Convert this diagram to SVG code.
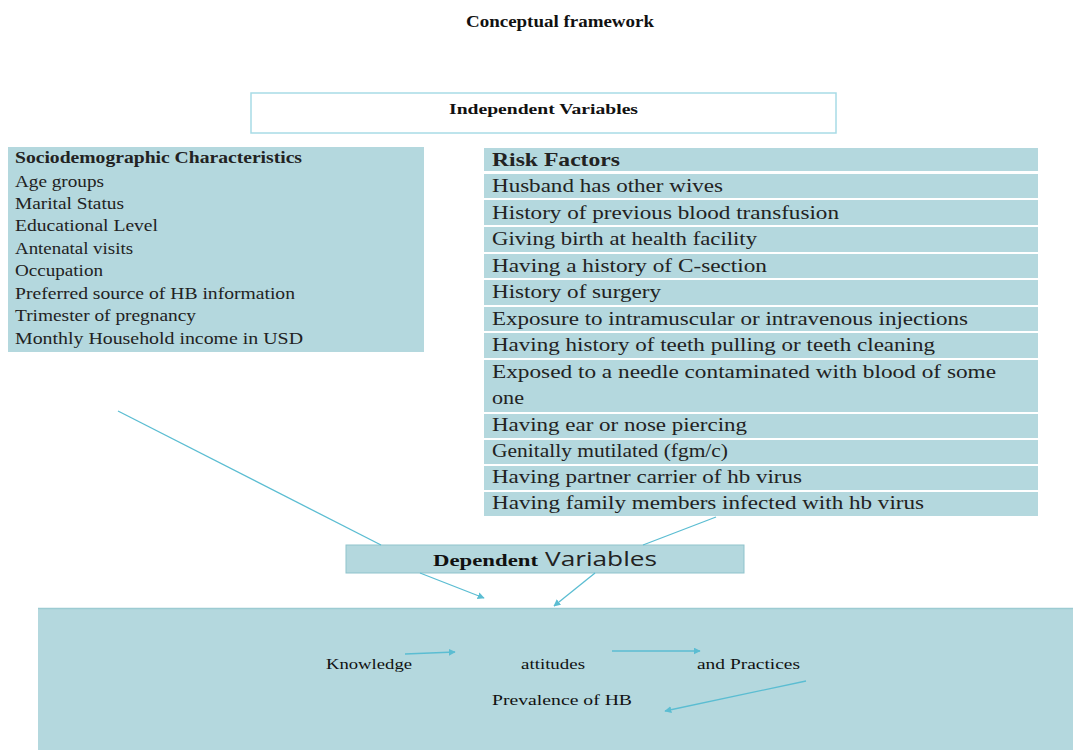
<svg xmlns="http://www.w3.org/2000/svg" width="1073" height="750" viewBox="0 0 1073 750">
<style>
.t{font-family:"Liberation Serif",serif;fill:#111}
.box{fill:#b4d8de}
.rl{font-family:"Liberation Serif",serif;font-size:19px;fill:#222}
.ll{font-family:"Liberation Serif",serif;font-size:16px;fill:#222}
.c{stroke:#5bbdd2;stroke-width:1.3;fill:none}
</style>
<defs>
<marker id="ah" viewBox="0 0 10 10" refX="9" refY="5" markerWidth="7" markerHeight="7" orient="auto" markerUnits="userSpaceOnUse">
<path d="M0,0 L10,5 L0,10 z" fill="#5bbdd2"/>
</marker>
</defs>
<rect width="1073" height="750" fill="#fff"/>
<text class="t" x="466" y="27" font-size="16" font-weight="bold" textLength="188" lengthAdjust="spacingAndGlyphs">Conceptual framework</text>

<g id="independent">
<rect x="251" y="93" width="585" height="40" fill="#fff" stroke="#a8dbe6" stroke-width="1.5"/>
<text class="t" x="449" y="114" font-size="14" font-weight="bold" textLength="189" lengthAdjust="spacingAndGlyphs">Independent  Variables</text>
</g>

<g id="sociodemographic">
<rect class="box" x="8" y="147" width="416" height="205"/>
<text class="ll" x="15" y="163" font-weight="bold" textLength="287" lengthAdjust="spacingAndGlyphs">Sociodemographic  Characteristics</text>
<text class="ll" x="15" y="187" textLength="89" lengthAdjust="spacingAndGlyphs">Age groups</text>
<text class="ll" x="15" y="209" textLength="109" lengthAdjust="spacingAndGlyphs">Marital Status</text>
<text class="ll" x="15" y="231" textLength="143" lengthAdjust="spacingAndGlyphs">Educational Level</text>
<text class="ll" x="15" y="254" textLength="118" lengthAdjust="spacingAndGlyphs">Antenatal visits</text>
<text class="ll" x="15" y="276" textLength="88" lengthAdjust="spacingAndGlyphs">Occupation</text>
<text class="ll" x="15" y="299" textLength="280" lengthAdjust="spacingAndGlyphs">Preferred source of HB information</text>
<text class="ll" x="15" y="321" textLength="181" lengthAdjust="spacingAndGlyphs">Trimester  of pregnancy</text>
<text class="ll" x="15" y="344" textLength="288" lengthAdjust="spacingAndGlyphs">Monthly Household income in USD</text>
</g>

<g id="risk-factors">
<rect class="box" x="484" y="148" width="554" height="23"/>
<rect class="box" x="484" y="174" width="554" height="24"/>
<rect class="box" x="484" y="200" width="554" height="25"/>
<rect class="box" x="484" y="227" width="554" height="25"/>
<rect class="box" x="484" y="254" width="554" height="24"/>
<rect class="box" x="484" y="280" width="554" height="25"/>
<rect class="box" x="484" y="307" width="554" height="24"/>
<rect class="box" x="484" y="333" width="554" height="25"/>
<rect class="box" x="484" y="360" width="554" height="52"/>
<rect class="box" x="484" y="414" width="554" height="24"/>
<rect class="box" x="484" y="440" width="554" height="24"/>
<rect class="box" x="484" y="466" width="554" height="24"/>
<rect class="box" x="484" y="492" width="554" height="24"/>
<text class="rl" x="492" y="166" font-weight="bold" textLength="128" lengthAdjust="spacingAndGlyphs">Risk Factors</text>
<text class="rl" x="492" y="192" textLength="231" lengthAdjust="spacingAndGlyphs">Husband has other wives</text>
<text class="rl" x="492" y="219" textLength="347" lengthAdjust="spacingAndGlyphs">History of previous blood transfusion</text>
<text class="rl" x="492" y="245" textLength="265" lengthAdjust="spacingAndGlyphs">Giving birth at health facility</text>
<text class="rl" x="492" y="272" textLength="275" lengthAdjust="spacingAndGlyphs">Having a history of C-section</text>
<text class="rl" x="492" y="298" textLength="169" lengthAdjust="spacingAndGlyphs">History of surgery</text>
<text class="rl" x="492" y="325" textLength="476" lengthAdjust="spacingAndGlyphs">Exposure to intramuscular or intravenous injections</text>
<text class="rl" x="492" y="351" textLength="443" lengthAdjust="spacingAndGlyphs">Having history of teeth pulling or teeth cleaning</text>
<text class="rl" x="492" y="378" textLength="504" lengthAdjust="spacingAndGlyphs">Exposed to a needle contaminated with blood of some</text>
<text class="rl" x="492" y="404" textLength="32" lengthAdjust="spacingAndGlyphs">one</text>
<text class="rl" x="492" y="431" textLength="255" lengthAdjust="spacingAndGlyphs">Having ear or nose piercing</text>
<text class="rl" x="492" y="457" textLength="236" lengthAdjust="spacingAndGlyphs">Genitally mutilated (fgm/c)</text>
<text class="rl" x="492" y="483" textLength="310" lengthAdjust="spacingAndGlyphs">Having partner carrier of hb virus</text>
<text class="rl" x="492" y="509" textLength="432" lengthAdjust="spacingAndGlyphs">Having family members infected with hb virus</text>
</g>

<g id="dependent">
<rect class="box" x="346" y="545" width="398" height="28" stroke="#8fc3cc" stroke-width="1"/>
<text class="t" x="433" y="566" font-size="16" font-weight="bold" textLength="105" lengthAdjust="spacingAndGlyphs">Dependent</text>
<text x="545" y="566" font-family="Open Sans, sans-serif" font-size="20" fill="#222" textLength="112" lengthAdjust="spacingAndGlyphs">Variables</text>
</g>

<g id="outcomes">
<rect class="box" x="38" y="608" width="1035" height="142"/>
<line x1="38" y1="608.5" x2="1073" y2="608.5" stroke="#9ccbd2" stroke-width="1.5"/>
<text class="t" x="326" y="669" font-size="15" textLength="86" lengthAdjust="spacingAndGlyphs">Knowledge</text>
<text class="t" x="521" y="669" font-size="15" textLength="64" lengthAdjust="spacingAndGlyphs">attitudes</text>
<text class="t" x="697" y="669" font-size="15" textLength="103" lengthAdjust="spacingAndGlyphs">and Practices</text>
<text class="t" x="492" y="705" font-size="15" textLength="140" lengthAdjust="spacingAndGlyphs">Prevalence of HB</text>
</g>

<g id="connectors">
<line class="c" x1="118" y1="411" x2="381" y2="545"/>
<line class="c" x1="716" y1="517" x2="643" y2="545"/>
<line class="c" x1="420" y1="573" x2="484" y2="598" marker-end="url(#ah)"/>
<line class="c" x1="595" y1="573" x2="554" y2="606" marker-end="url(#ah)"/>
<line class="c" x1="405" y1="654" x2="455" y2="652" marker-end="url(#ah)"/>
<line class="c" x1="612" y1="651" x2="700" y2="651" marker-end="url(#ah)"/>
<line class="c" x1="806" y1="681" x2="665" y2="711" marker-end="url(#ah)"/>
</g>
</svg>
